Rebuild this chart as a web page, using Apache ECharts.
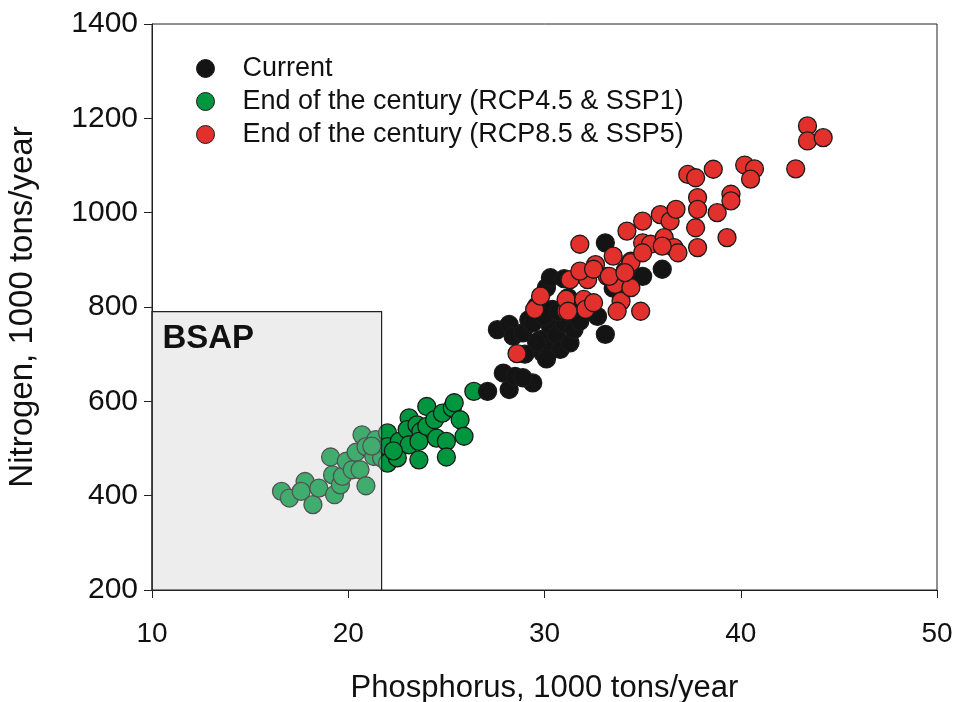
<!DOCTYPE html>
<html>
<head>
<meta charset="utf-8">
<script src="https://cdn.jsdelivr.net/npm/echarts@6/dist/echarts.min.js"></script>
<style>
html,body{margin:0;padding:0;background:#fff;}
#chart{width:956px;height:702px;}
</style>
</head>
<body>
<div id="chart"></div>
<script>
var xTicks = [10, 20, 30, 40, 50];
var yTicks = [200, 400, 600, 800, 1000, 1200, 1400];
var seriesNames = ['Current', 'End of the century (RCP4.5 & SSP1)', 'End of the century (RCP8.5 & SSP5)'];
var bsapP = [10, 21.7];
var bsapN = [200, 790];

var currentPts = [
  [27.1, 621], [27.9, 660], [28.2, 625], [28.5, 653], [29.4, 639], [28.9, 650],
  [27.6, 752], [28.2, 763], [28.4, 738], [28.9, 745], [29.2, 773], [29.4, 766],
  [29.6, 802], [29.8, 731], [29.9, 703], [30.1, 841], [30.3, 862], [30.3, 759],
  [30.4, 795], [30.4, 710], [30.6, 740], [30.8, 710], [31.0, 766], [31.3, 724],
  [31.5, 752], [31.2, 820], [31.0, 860], [32.0, 802], [32.4, 790], [32.7, 780],
  [33.1, 742], [33.1, 936], [33.5, 840], [34.2, 850], [35.0, 865], [36.0, 880],
  [30.0, 780], [29.6, 725], [30.7, 790], [31.8, 770], [29.0, 700], [30.1, 690]
];
var rcp45Pts = [
  [16.6, 409], [17.0, 395], [17.8, 430], [17.6, 409], [18.2, 381], [18.5, 416],
  [19.1, 482], [19.2, 444], [19.3, 402], [19.6, 423], [19.7, 441], [19.9, 473],
  [20.2, 455], [20.4, 492], [20.6, 455], [20.7, 529], [20.9, 421], [20.9, 504],
  [21.3, 483], [21.4, 519], [21.7, 480], [22.0, 533], [22.0, 504], [22.0, 469],
  [22.5, 480], [22.6, 515], [23.1, 565], [23.0, 540], [23.1, 508], [23.6, 476],
  [23.5, 550], [23.7, 536], [23.6, 515], [24.0, 547], [24.0, 589], [24.4, 561],
  [24.5, 522], [24.8, 575], [25.0, 515], [25.0, 482], [25.3, 586], [25.4, 597],
  [25.7, 561], [25.9, 526], [26.4, 621], [21.2, 505], [22.3, 495]
];
var rcp85Pts = [
  [28.6, 701], [29.5, 795], [29.8, 823], [31.1, 791], [31.1, 816], [31.3, 858],
  [31.8, 933], [32.0, 816], [32.1, 795], [32.2, 858], [31.8, 876], [32.6, 890],
  [33.2, 865], [33.5, 908], [33.6, 848], [33.9, 812], [33.7, 791], [34.1, 876],
  [34.4, 897], [34.4, 841], [34.9, 791], [35.0, 936], [34.2, 961], [35.0, 982],
  [35.9, 996], [36.4, 982], [36.7, 1007], [35.4, 933], [36.1, 947], [36.6, 926],
  [36.8, 915], [36.0, 929], [37.3, 1081], [37.7, 1074], [37.8, 1032], [37.8, 1007],
  [37.7, 968], [37.8, 926], [38.8, 1000], [39.3, 947], [38.6, 1092], [39.5, 1039],
  [39.5, 1025], [40.2, 1101], [40.7, 1093], [40.5, 1071], [42.8, 1093], [43.4, 1184],
  [43.4, 1152], [44.2, 1159], [34.4, 894], [35.0, 915], [32.5, 880], [32.5, 809],
  [31.2, 791], [33.3, 865], [34.1, 873]
];

var FONT = 'Liberation Sans, Arial, sans-serif';
var colors = ['#141414', '#00963f', '#e2312c'];

function pointSeries(name, data, color, z) {
  return {
    name: name,
    type: 'scatter',
    data: data,
    symbol: 'circle',
    symbolSize: 18,
    z: z,
    itemStyle: { color: color, borderColor: '#1a1a1a', borderWidth: 1.3, opacity: 1 },
    emphasis: { disabled: true }
  };
}

var boxData = [[{ xAxis: bsapP[0], yAxis: bsapN[0] }, { xAxis: bsapP[1], yAxis: bsapN[1] }]];

var chart = echarts.init(document.getElementById('chart'), null, { renderer: 'canvas' });
chart.setOption({
  animation: false,
  backgroundColor: '#ffffff',
  grid: { left: 152, right: 19, top: 24, bottom: 112, outerBoundsMode: 'none', containLabel: false, show: true, borderColor: '#222', borderWidth: 1, backgroundColor: 'transparent' },
  legend: {
    data: seriesNames.map(function (n, i) { return { name: n, icon: 'circle', itemStyle: { color: colors[i], borderColor: '#1a1a1a', borderWidth: 1 } }; }),
    orient: 'vertical',
    left: 191,
    top: 50,
    itemWidth: 18,
    itemHeight: 18,
    itemGap: 6,
    selectedMode: false,
    textStyle: { fontFamily: FONT, fontSize: 27, color: '#111', padding: [0, 0, 0, 23] }
  },
  xAxis: {
    type: 'value',
    min: xTicks[0], max: xTicks[xTicks.length - 1], interval: 10,
    name: 'Phosphorus, 1000 tons/year',
    nameLocation: 'middle', nameGap: 83,
    nameTextStyle: { fontFamily: FONT, fontSize: 31, color: '#111' },
    axisLine: { onZero: false, lineStyle: { color: '#222', width: 1 } },
    axisTick: { show: true, inside: false, length: 8, lineStyle: { color: '#222' } },
    axisLabel: { fontFamily: FONT, fontSize: 28, color: '#111', margin: 30 },
    splitLine: { show: false }
  },
  yAxis: {
    type: 'value',
    min: yTicks[0], max: yTicks[yTicks.length - 1], interval: 200,
    name: 'Nitrogen, 1000 tons/year',
    nameLocation: 'middle', nameGap: 113,
    nameTextStyle: { fontFamily: FONT, fontSize: 33, color: '#111' },
    axisLine: { show: true, onZero: false, lineStyle: { color: '#222', width: 1 } },
    axisTick: { show: true, inside: false, length: 8, lineStyle: { color: '#222' } },
    axisLabel: { fontFamily: FONT, fontSize: 30, color: '#111', margin: 14, formatter: function (v) { return String(v); } },
    splitLine: { show: false }
  },
  series: [
    {
      name: 'bsap-base', type: 'scatter', data: [], z: 1, silent: true,
      markArea: {
        silent: true, z: 0,
        itemStyle: { color: '#eeeeee', borderWidth: 0 },
        data: boxData
      }
    },
    pointSeries(seriesNames[1], rcp45Pts, colors[1], 2),
    pointSeries(seriesNames[0], currentPts, colors[0], 2),
    pointSeries(seriesNames[2], rcp85Pts, colors[2], 2),
    {
      name: 'bsap-overlay', type: 'scatter', data: [], z: 10, silent: true,
      markArea: {
        silent: true, z: 10,
        itemStyle: { color: 'rgba(238,238,238,0.27)', borderColor: '#222', borderWidth: 1.2 },
        label: {
          show: true, position: 'insideTopLeft', formatter: 'BSAP',
          fontFamily: FONT, fontSize: 33, fontWeight: 'bold', color: '#111',
          offset: [6, 6]
        },
        data: boxData
      }
    }
  ]
});
</script>
</body>
</html>
